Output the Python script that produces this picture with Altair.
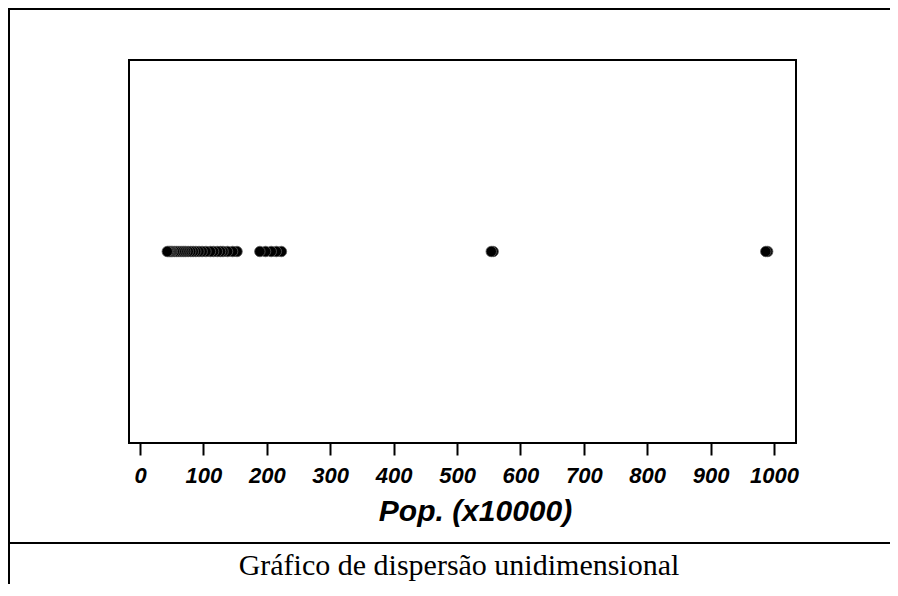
import altair as alt
import pandas as pd

# Population values (x10000)
pop = [990, 987, 557, 554, 223, 215, 207, 198, 189, 153, 146, 138, 131, 127,
       122, 116, 111, 104, 98, 93, 88, 84, 80, 76, 72, 69, 66, 63, 60, 57,
       54, 51, 49, 47, 45, 43]
row = [0] * len(pop)

x_ticks = [0, 100, 200, 300, 400, 500, 600, 700, 800, 900, 1000]
x_title = "Pop. (x10000)"
caption = "Gráfico de dispersão unidimensional"

df = pd.DataFrame({"pop": pop, "row": row})

W, H = 667, 383
PL, PT, PR, PB = 121, 52, 94, 141

points = alt.Chart(df).mark_point(
    shape="circle", filled=True, size=110, color="#000000",
    stroke="#5a5a5a", strokeWidth=0.8, opacity=1
).encode(
    x=alt.X("pop:Q",
            scale=alt.Scale(domain=[-17.4, 1034.7], nice=False, zero=False),
            axis=alt.Axis(values=x_ticks, format="d", title=x_title,
                          grid=False, domain=False, tickSize=12, tickWidth=2,
                          tickColor="#000000",
                          labelFont="Liberation Sans", labelFontSize=22,
                          labelFontWeight="bold", labelFontStyle="italic",
                          labelColor="#000000", labelPadding=10,
                          labelFlush=False, labelOverlap=False,
                          titleFont="Liberation Sans", titleFontSize=30,
                          titleFontWeight="bold", titleFontStyle="italic",
                          titleColor="#000000", titleX=346, titleY=77,
                          titleAlign="center", titleBaseline="alphabetic")),
    y=alt.Y("row:Q", scale=alt.Scale(domain=[-1, 1]), axis=None),
)

frame_top = alt.Chart(df).mark_rule(color="#000000", strokeWidth=2).encode(
    x=alt.value(-PL), x2=alt.value(W + PR), y=alt.value(-PT + 1))
frame_left = alt.Chart(df).mark_rule(color="#000000", strokeWidth=2).encode(
    x=alt.value(-PL + 1), y=alt.value(-PT), y2=alt.value(H + PB))
frame_mid = alt.Chart(df).mark_rule(color="#000000", strokeWidth=2).encode(
    x=alt.value(-PL), x2=alt.value(W + PR), y=alt.value(483))

cap = alt.Chart(pd.DataFrame({"t": [caption]})).mark_text(
    font="Liberation Serif", fontSize=30, color="#000000",
    align="center", baseline="alphabetic"
).encode(text="t:N", x=alt.value(330), y=alt.value(515))

chart = alt.layer(points, frame_top, frame_left, frame_mid, cap).properties(
    width=W, height=H,
    autosize=alt.AutoSizeParams(type="none"),
    padding={"left": PL, "top": PT, "right": PR, "bottom": PB},
).configure(background="white").configure_view(stroke="#000000", strokeWidth=2)

chart.save("out.html", embed_options={"renderer": "svg", "actions": False})
